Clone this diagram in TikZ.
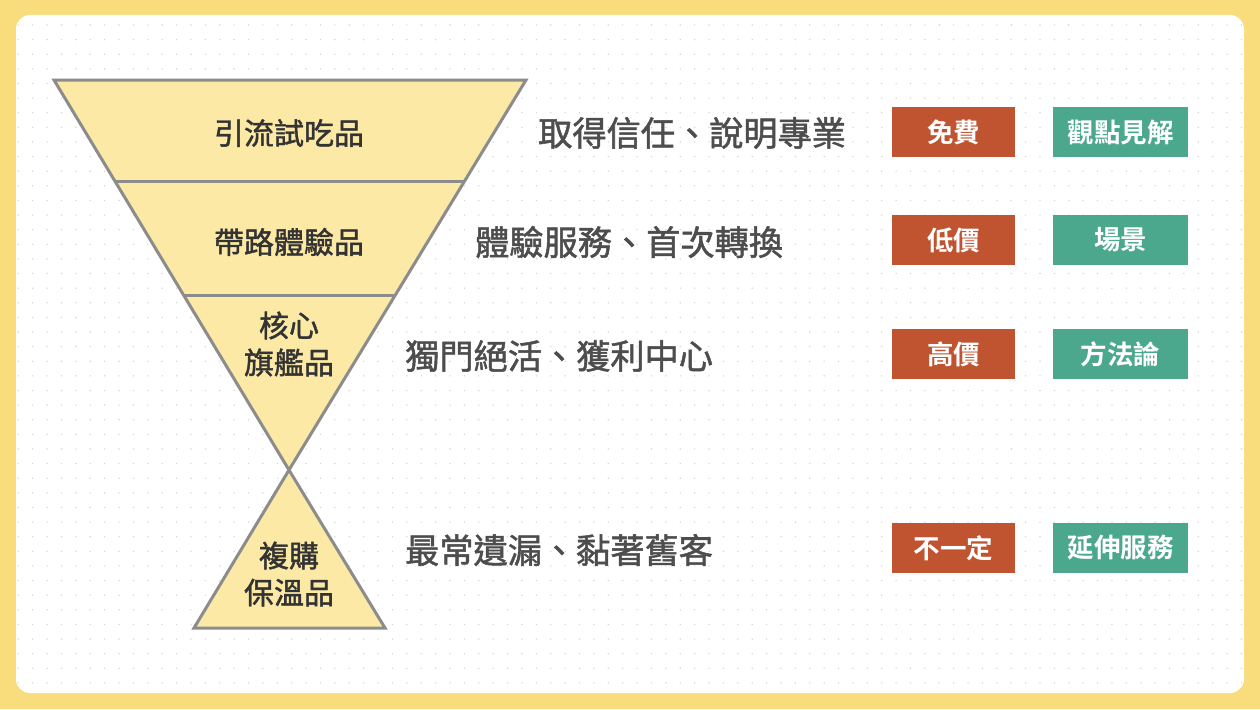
\documentclass[tikz,border=0pt]{standalone}
\usepackage{fontspec}
\newfontfamily\cjkm{Noto Sans CJK TC}[FakeBold=1.5]
\newfontfamily\cjkb{Noto Sans CJK TC Bold}
\definecolor{bgyellow}{HTML}{F9DD7C}
\definecolor{funnelfill}{HTML}{FBE9A5}
\definecolor{edgegray}{HTML}{8C8C8C}
\definecolor{dotgray}{HTML}{D6D6D6}
\definecolor{labeltext}{HTML}{333333}
\definecolor{desctext}{HTML}{4D4D4D}
\definecolor{tagorange}{HTML}{C05430}
\definecolor{tagteal}{HTML}{4CA88C}
\tikzset{
  funnelpart/.style={fill=funnelfill},
  funneledge/.style={draw=edgegray, line width=3pt, line join=miter},
  funnellabel/.style={text=labeltext, font=\cjkm\fontsize{30}{37}\selectfont, align=center, inner sep=0pt},
  desc/.style={text=desctext, font=\cjkm\fontsize{34.2}{40}\selectfont, anchor=west, inner sep=0pt},
  tagbox/.style={minimum height=50pt, inner sep=0pt, text=white, font=\cjkb\fontsize{26.5}{30}\selectfont},
  pricetag/.style={tagbox, fill=tagorange, minimum width=123pt},
  valuetag/.style={tagbox, fill=tagteal, minimum width=135pt}
}
\begin{document}
\begin{tikzpicture}[x=1pt,y=-1pt]
\useasboundingbox (0,0) rectangle (1260,709);
\fill[bgyellow] (0,0) rectangle (1260,709);
\fill[white, rounded corners=14pt] (16,15) rectangle (1244,693);
\foreach \i in {0,...,85} {
  \foreach \j in {0,...,45} {
    \fill[dotgray] (18.3+\i*14.39, 25+\j*14.62) circle (0.8);
  }
}
% funnel geometry
\coordinate (tl) at (54,80);
\coordinate (tr) at (526,80);
\coordinate (apex) at (289,470);
\coordinate (s1l) at (114.9,181);
\coordinate (s1r) at (465.1,181);
\coordinate (s2l) at (183.6,295);
\coordinate (s2r) at (394.4,295);
\coordinate (bl) at (194,628);
\coordinate (br) at (385,628);
\fill[funnelpart] (tl) -- (tr) -- (apex) -- cycle;
\fill[funnelpart] (apex) -- (br) -- (bl) -- cycle;
\draw[funneledge] (tl) -- (tr) -- (apex) -- cycle;
\draw[funneledge] (apex) -- (br) -- (bl) -- cycle;
\draw[funneledge] (s1l) -- (s1r);
\draw[funneledge] (s2l) -- (s2r);
% funnel labels
\node[funnellabel] (l1) at (289,133) {引流試吃品};
\node[funnellabel] (l2) at (289,242) {帶路體驗品};
\node[funnellabel] (l3) at (289,344) {核心\\旗艦品};
\node[funnellabel] (l4) at (289,574) {複購\\保溫品};
% descriptions
\node[desc] (d1) at (538,133) {取得信任、說明專業};
\node[desc] (d2) at (475,242) {體驗服務、首次轉換};
\node[desc] (d3) at (405,356) {獨門絕活、獲利中心};
\node[desc] (d4) at (405,550) {最常遺漏、黏著舊客};
% tags
\node[pricetag] (p1) at (953.5,132) {免費};
\node[pricetag] (p2) at (953.5,240) {低價};
\node[pricetag] (p3) at (953.5,354) {高價};
\node[pricetag] (p4) at (953.5,548) {不一定};
\node[valuetag] (v1) at (1120.5,132) {觀點見解};
\node[valuetag] (v2) at (1120.5,240) {場景};
\node[valuetag] (v3) at (1120.5,354) {方法論};
\node[valuetag] (v4) at (1120.5,548) {延伸服務};
\end{tikzpicture}
\end{document}
